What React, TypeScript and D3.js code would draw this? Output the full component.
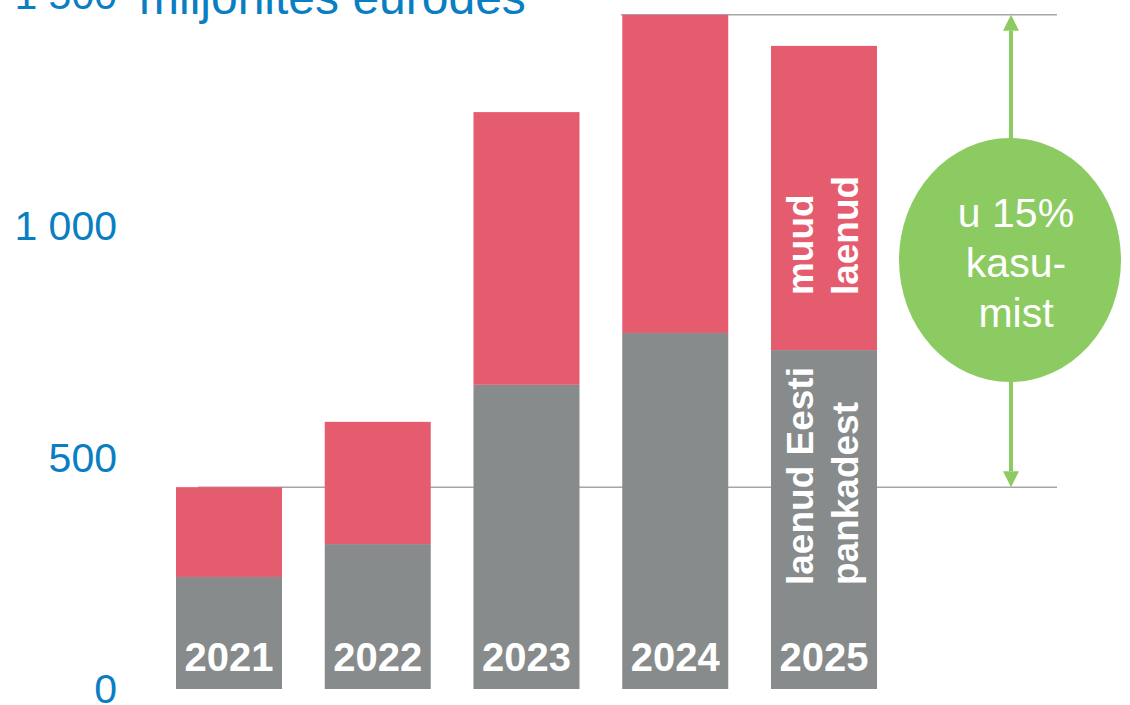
import React from "react";
import * as d3 from "d3";

const years = ["2021", "2022", "2023", "2024", "2025"];
const domesticBanks = [242, 313, 657, 769, 732];
const otherLoans = [194, 264, 589, 687, 657];
const yTicks = [0, 500, 1000, 1500];
const tickLabels = ["0", "500", "1 000", "1 500"];
const unitLabel = "miljonites eurodes";
const circleLines = ["u 15%", "kasu-", "mist"];
const redLabel = ["muud", "laenud"];
const grayLabel = ["laenud Eesti", "pankadest"];

const W = 1130;
const H = 705;
const FONT = "'Liberation Sans', Arial, sans-serif";
const BLUE = "#0a7ec2";
const RED = "#e65c6f";
const GRAY = "#878b8c";
const GREEN = "#8ccb62";
const LINE = "#a6a6a6";

export default function App() {
  const y = d3.scaleLinear().domain([0, 1500]).range([689, 689 - 1500 * 0.463]);
  const x = d3.scaleBand<string>().domain(years).range([176, 877]).paddingInner(0.2874).paddingOuter(0);
  const bw = x.bandwidth();

  const stack = d3.stack<any>().keys(["a", "b"])(
    years.map((yr, i) => ({ yr, a: domesticBanks[i], b: otherLoans[i] }))
  );

  const total2021 = domesticBanks[0] + otherLoans[0];
  const total2024 = domesticBanks[3] + otherLoans[3];
  const yLow = y(total2021);
  const yHigh = y(total2024);
  const ax = 1011;
  const head = 16;

  const last = years.length - 1;
  const lx = x(years[last])! + bw / 2;
  const grayTop = y(domesticBanks[last]);

  return (
    <svg width={W} height={H} style={{ position: "absolute", left: 0, top: 0, background: "#fff" }} fontFamily={FONT}>
      {/* reference lines */}
      <line x1={198} x2={1057} y1={yLow} y2={yLow} stroke={LINE} strokeWidth={1.5} />
      <line x1={621} x2={1057} y1={yHigh} y2={yHigh} stroke={LINE} strokeWidth={1.5} />

      {/* bars */}
      {stack.map((s, si) => (
        <g key={si} fill={si === 0 ? GRAY : RED}>
          {s.map((d, i) => (
            <rect key={i} x={x(years[i])} width={bw} y={y(d[1])} height={y(d[0]) - y(d[1])} />
          ))}
        </g>
      ))}

      {/* year labels */}
      {years.map((yr) => (
        <text key={yr} x={x(yr)! + bw / 2} y={671} textAnchor="middle" fill="#fff" fontWeight="bold" fontSize={40}>
          {yr}
        </text>
      ))}

      {/* rotated labels in last bar */}
      <g transform={`translate(${lx - 11},${grayTop - 55}) rotate(-90)`} fill="#fff" fontWeight="bold" fontSize={37}>
        {redLabel.map((t, i) => (
          <text key={t} x={0} y={i * 45}>{t}</text>
        ))}
      </g>
      <g transform={`translate(${lx - 11},${585}) rotate(-90)`} fill="#fff" fontWeight="bold" fontSize={37}>
        {grayLabel.map((t, i) => (
          <text key={t} x={0} y={i * 45}>{t}</text>
        ))}
      </g>

      {/* y axis labels */}
      {yTicks.map((v, i) => (
        <text key={v} x={117} y={y(v)} dy="0.35em" textAnchor="end" fill={BLUE} fontSize={41}>
          {tickLabels[i]}
        </text>
      ))}
      <text x={139} y={14} fill={BLUE} fontSize={48}>{unitLabel}</text>

      {/* arrow */}
      <line x1={ax} x2={ax} y1={yHigh + head} y2={yLow - head} stroke={GREEN} strokeWidth={4} />
      <path d={`M${ax},${yHigh} L${ax - 8},${yHigh + head} L${ax + 8},${yHigh + head} Z`} fill={GREEN} />
      <path d={`M${ax},${yLow} L${ax - 8},${yLow - head} L${ax + 8},${yLow - head} Z`} fill={GREEN} />

      {/* circle */}
      <ellipse cx={1010} cy={260} rx={111} ry={122} fill={GREEN} />
      {circleLines.map((t, i) => (
        <text key={t} x={1016} y={227 + i * 50} textAnchor="middle" fill="#fff" fontSize={41}>
          {t}
        </text>
      ))}
    </svg>
  );
}
